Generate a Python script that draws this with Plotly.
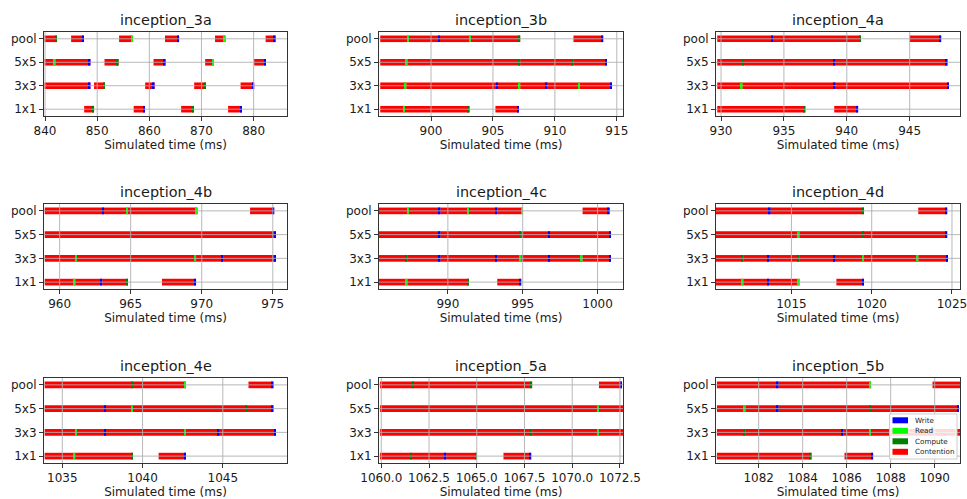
import math
import plotly.graph_objects as go

# ---------------- data ----------------
ROWS = ["1x1", "3x3", "5x5", "pool"]
TITLES = ["inception_3a", "inception_3b", "inception_4a",
          "inception_4b", "inception_4c", "inception_4d",
          "inception_4e", "inception_5a", "inception_5b"]
X_RANGES = [[839.8, 886.4], [895.8, 915.5], [929.6, 949.0],
            [958.9, 976.0], [985.4, 1001.7], [1010.3, 1025.5],
            [1033.86, 1049.0], [1059.88, 1072.66], [1080.06, 1091.15]]
X_DTICKS = [10, 5, 5, 5, 5, 5, 5, 2.5, 2]
X_TICKFORMATS = ["", "", "", "", "", "", "", ".1f", ""]

# (row, start ms, end ms, kind of op ending the segment: W=Write, R=Read, C=Compute)
OPS_3A = [
    ("pool", 839.9, 842.3, "C"), ("pool", 845.0, 847.4, "W"), ("pool", 854.2, 856.8, "R"),
    ("pool", 863.0, 865.7, "W"), ("pool", 872.6, 874.6, "R"), ("pool", 882.3, 884.2, "W"),
    ("5x5", 839.9, 842.0, "R"), ("5x5", 842.0, 848.7, "W"), ("5x5", 851.4, 854.1, "C"),
    ("5x5", 860.8, 863.1, "W"), ("5x5", 870.7, 872.4, "R"), ("5x5", 880.1, 882.3, "W"),
    ("3x3", 839.9, 848.7, "W"), ("3x3", 849.4, 851.5, "C"), ("3x3", 859.2, 861.0, "W"),
    ("3x3", 868.6, 870.8, "C"), ("3x3", 877.5, 880.1, "W"),
    ("1x1", 847.5, 849.4, "C"), ("1x1", 857.0, 859.1, "W"), ("1x1", 866.1, 868.5, "C"),
    ("1x1", 875.1, 877.7, "W"),
]
OPS_3B = [
    ("pool", 895.9, 898.2, "R"), ("pool", 898.2, 900.7, "W"), ("pool", 900.7, 903.2, "R"),
    ("pool", 903.2, 907.2, "C"), ("pool", 911.5, 913.9, "W"),
    ("5x5", 895.9, 898.1, "R"), ("5x5", 898.1, 907.2, "C"), ("5x5", 907.2, 911.5, "C"),
    ("5x5", 911.5, 914.2, "W"),
    ("3x3", 895.9, 898.0, "R"), ("3x3", 898.0, 905.4, "W"), ("3x3", 905.4, 907.2, "R"),
    ("3x3", 907.2, 909.4, "W"), ("3x3", 909.4, 912.0, "R"), ("3x3", 912.0, 914.6, "W"),
    ("1x1", 895.9, 897.9, "R"), ("1x1", 897.9, 903.1, "C"), ("1x1", 905.2, 907.1, "W"),
]
OPS_4A = [
    ("pool", 929.7, 934.1, "W"), ("pool", 934.1, 941.1, "C"), ("pool", 945.0, 947.5, "W"),
    ("5x5", 929.7, 931.8, "C"), ("5x5", 931.8, 939.1, "W"), ("5x5", 939.1, 948.0, "W"),
    ("3x3", 929.7, 931.7, "R"), ("3x3", 931.7, 939.1, "W"), ("3x3", 939.1, 948.1, "W"),
    ("1x1", 929.7, 936.7, "C"), ("1x1", 939.0, 940.9, "W"),
]
OPS_4B = [
    ("pool", 958.95, 963.1, "W"), ("pool", 963.1, 964.8, "R"), ("pool", 964.8, 969.7, "R"),
    ("pool", 973.4, 975.1, "W"),
    ("5x5", 958.95, 975.2, "W"),
    ("3x3", 958.95, 961.2, "R"), ("3x3", 961.2, 969.6, "R"), ("3x3", 969.6, 971.5, "W"),
    ("3x3", 971.5, 975.2, "W"),
    ("1x1", 958.95, 961.1, "R"), ("1x1", 961.1, 963.0, "W"), ("1x1", 963.0, 964.8, "C"),
    ("1x1", 967.2, 969.6, "W"),
]
OPS_4C = [
    ("pool", 985.4, 987.4, "R"), ("pool", 987.4, 989.5, "W"), ("pool", 989.5, 991.4, "R"),
    ("pool", 991.4, 993.3, "W"), ("pool", 993.3, 995.0, "R"), ("pool", 999.0, 1000.8, "W"),
    ("5x5", 985.4, 989.5, "W"), ("5x5", 989.5, 994.9, "C"), ("5x5", 994.9, 996.8, "W"),
    ("5x5", 996.8, 1000.9, "W"),
    ("3x3", 985.4, 987.3, "C"), ("3x3", 987.3, 989.5, "W"), ("3x3", 989.5, 993.3, "W"),
    ("3x3", 993.3, 994.9, "R"), ("3x3", 994.9, 996.8, "W"), ("3x3", 996.8, 999.0, "R"),
    ("3x3", 999.0, 1000.9, "W"),
    ("1x1", 985.4, 987.3, "R"), ("1x1", 987.3, 991.4, "C"), ("1x1", 993.3, 994.9, "W"),
]
OPS_4D = [
    ("pool", 1010.3, 1013.7, "W"), ("pool", 1013.7, 1019.5, "C"), ("pool", 1022.9, 1024.7, "W"),
    ("5x5", 1010.3, 1015.5, "R"), ("5x5", 1015.5, 1019.5, "C"), ("5x5", 1019.5, 1024.7, "W"),
    ("3x3", 1010.3, 1012.0, "C"), ("3x3", 1012.0, 1013.6, "W"), ("3x3", 1013.6, 1015.5, "C"),
    ("3x3", 1015.5, 1017.7, "W"), ("3x3", 1017.7, 1019.5, "R"), ("3x3", 1019.5, 1022.9, "R"),
    ("3x3", 1022.9, 1024.75, "W"),
    ("1x1", 1010.3, 1012.0, "R"), ("1x1", 1012.0, 1013.6, "W"), ("1x1", 1013.6, 1015.5, "R"),
    ("1x1", 1017.8, 1019.5, "W"),
]
OPS_4E = [
    ("pool", 1033.9, 1039.4, "C"), ("pool", 1039.4, 1042.7, "R"), ("pool", 1046.6, 1048.15, "W"),
    ("5x5", 1033.9, 1037.7, "W"), ("5x5", 1037.7, 1039.4, "R"), ("5x5", 1039.4, 1046.5, "C"),
    ("5x5", 1046.5, 1048.15, "W"),
    ("3x3", 1033.9, 1035.9, "R"), ("3x3", 1035.9, 1037.7, "W"), ("3x3", 1037.7, 1042.7, "R"),
    ("3x3", 1042.7, 1044.8, "W"), ("3x3", 1044.8, 1048.3, "W"),
    ("1x1", 1033.9, 1035.8, "R"), ("1x1", 1035.8, 1039.4, "C"), ("1x1", 1041.0, 1042.7, "W"),
]
OPS_5A = [
    ("pool", 1059.93, 1061.7, "C"), ("pool", 1061.7, 1067.9, "C"), ("pool", 1071.4, 1072.6, "W"),
    ("5x5", 1059.93, 1071.4, "R"), ("5x5", 1071.4, 1072.8, "W"),
    ("3x3", 1059.93, 1067.9, "C"), ("3x3", 1067.9, 1071.4, "R"), ("3x3", 1071.4, 1072.8, "W"),
    ("1x1", 1059.93, 1061.6, "C"), ("1x1", 1061.6, 1063.4, "W"), ("1x1", 1063.4, 1065.0, "C"),
    ("1x1", 1066.4, 1067.85, "W"),
]
OPS_5B = [
    ("pool", 1080.1, 1082.9, "W"), ("pool", 1082.9, 1087.1, "R"), ("pool", 1089.9, 1091.3, "W"),
    ("5x5", 1080.1, 1081.4, "R"), ("5x5", 1081.4, 1082.9, "W"), ("5x5", 1082.9, 1087.1, "C"),
    ("5x5", 1087.1, 1091.1, "W"),
    ("3x3", 1080.1, 1081.4, "C"), ("3x3", 1081.4, 1085.85, "W"), ("3x3", 1085.85, 1087.1, "R"),
    ("3x3", 1087.1, 1091.0, "R"), ("3x3", 1091.0, 1091.5, "W"),
    ("1x1", 1080.1, 1084.4, "C"), ("1x1", 1085.9, 1087.2, "W"),
]
OPS = [OPS_3A, OPS_3B, OPS_4A, OPS_4B, OPS_4C, OPS_4D, OPS_4E, OPS_5A, OPS_5B]

KINDS = ["W", "R", "C"]
KIND_NAMES = {"W": "Write", "R": "Read", "C": "Compute"}
LEGEND_ORDER = ["W", "R", "C", "Contention"]
LEGEND_LABELS = {"W": "Write", "R": "Read", "C": "Compute", "Contention": "Contention"}

# ---------------- style ----------------
COLORS = {"W": "#0000ff", "R": "#00ff00", "C": "#008000", "Contention": "#ff0000"}
FONT = "DejaVu Sans"
TXT = "#1a1a1a"
GRID = "#b0b0b0"
SPINE = "#333333"
W, H = 967, 499
COL_X = [(44, 287), (379, 623), (716, 960)]
ROW_Y = [(32, 116), (204, 289), (378, 463)]
BAR_H = 0.28
MARK_PX = 1.6

fig = go.Figure()
shapes = []
annotations = []
layout_axes = {}

for i, title in enumerate(TITLES):
    r, c = divmod(i, 3)
    suf = "" if i == 0 else str(i + 1)
    xref, yref = "x" + suf, "y" + suf
    x0p, x1p = COL_X[c]
    y0p, y1p = ROW_Y[r]
    xdom = [x0p / W, x1p / W]
    ydom = [1 - y1p / H, 1 - y0p / H]
    ops = OPS[i]
    xr = X_RANGES[i]
    span = xr[1] - xr[0]
    mw = MARK_PX * span / (x1p - x0p)

    fig.add_trace(go.Bar(
        orientation="h",
        y=[ROWS.index(o[0]) for o in ops],
        base=[o[1] for o in ops],
        x=[o[2] - o[1] for o in ops],
        width=BAR_H,
        marker=dict(color=COLORS["Contention"], line=dict(width=0)),
        name="Contention", showlegend=False,
        xaxis=xref, yaxis=yref, hoverinfo="skip",
    ))
    for k in KINDS:
        sel = [o for o in ops if o[3] == k]
        fig.add_trace(go.Bar(
            orientation="h",
            y=[ROWS.index(o[0]) for o in sel],
            base=[o[2] - mw for o in sel],
            x=[mw] * len(sel),
            width=BAR_H,
            marker=dict(color=COLORS[k], line=dict(width=0)),
            name=KIND_NAMES[k], showlegend=False,
            xaxis=xref, yaxis=yref, hoverinfo="skip",
        ))

    # gridlines drawn above the bars (as in the reference)
    d = X_DTICKS[i]
    t = math.ceil(xr[0] / d - 1e-9) * d
    while t <= xr[1] + 1e-9:
        shapes.append(dict(type="line", xref=xref, yref=yref + " domain",
                           x0=t, x1=t, y0=0, y1=1, layer="above",
                           line=dict(color=GRID, width=0.9)))
        t += d
    for yi in range(len(ROWS)):
        shapes.append(dict(type="line", xref=xref + " domain", yref=yref,
                           x0=0, x1=1, y0=yi, y1=yi, layer="above",
                           line=dict(color=GRID, width=0.9)))

    layout_axes["xaxis" + suf] = dict(
        domain=xdom, range=xr, anchor=yref, tick0=0, dtick=d, automargin=False,
        tickformat=X_TICKFORMATS[i], showgrid=False, zeroline=False,
        ticklabeloverflow="allow",
        showline=True, mirror=True, linecolor=SPINE, linewidth=1,
        ticks="outside", ticklen=4, tickwidth=1, tickcolor=SPINE,
        tickfont=dict(size=12, color=TXT, family=FONT),
        title=dict(text="Simulated time (ms)", standoff=2,
                   font=dict(size=12, color=TXT, family=FONT)),
    )
    layout_axes["yaxis" + suf] = dict(
        domain=ydom, range=[-0.29, 3.29], anchor=xref, automargin=False,
        tickvals=list(range(len(ROWS))), ticktext=ROWS,
        showgrid=False, zeroline=False,
        showline=True, mirror=True, linecolor=SPINE, linewidth=1,
        ticks="outside", ticklen=4, tickwidth=1, tickcolor=SPINE,
        tickfont=dict(size=12, color=TXT, family=FONT),
    )
    annotations.append(dict(
        text=title, x=(xdom[0] + xdom[1]) / 2, y=ydom[1], xref="paper", yref="paper",
        xanchor="center", yanchor="bottom", yshift=2, showarrow=False,
        font=dict(size=14.4, color=TXT, family=FONT),
    ))

# compact legend inside the last panel (lower right), as in the reference
LX0, LX1, LY0, LY1 = 889.5, 957, 414, 459
shapes.append(dict(type="rect", xref="paper", yref="paper",
                   x0=LX0 / W, x1=LX1 / W, y0=1 - LY1 / H, y1=1 - LY0 / H,
                   layer="above", fillcolor="rgba(255,255,255,0.85)",
                   line=dict(color="#cccccc", width=1)))
for j, k in enumerate(LEGEND_ORDER):
    cy = 420.3 + j * 10.5
    shapes.append(dict(type="rect", xref="paper", yref="paper",
                       x0=892.5 / W, x1=908 / W, y0=1 - (cy + 3) / H, y1=1 - (cy - 3) / H,
                       layer="above", fillcolor=COLORS[k], line=dict(width=0)))
    annotations.append(dict(text=LEGEND_LABELS[k], x=913 / W, y=1 - cy / H,
                            xref="paper", yref="paper", xanchor="left", yanchor="middle",
                            showarrow=False,
                            font=dict(size=7.2, color=TXT, family=FONT)))

fig.update_layout(
    width=W, height=H, autosize=False,
    margin=dict(l=0, r=0, t=0, b=0),
    paper_bgcolor="white", plot_bgcolor="white",
    barmode="overlay", showlegend=False,
    font=dict(family=FONT, color=TXT),
    shapes=shapes, annotations=annotations,
    **layout_axes,
)

fig.write_html("out.html", config={"displayModeBar": False},
               post_script="document.body.style.margin='0px';")
